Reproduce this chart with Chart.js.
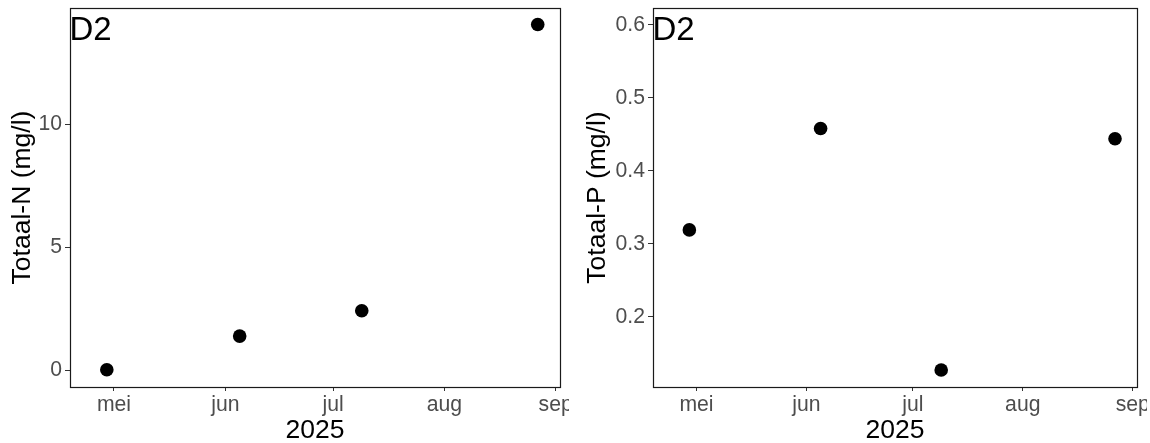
<!DOCTYPE html>
<html>
<head>
<meta charset="utf-8">
<script src="https://cdn.jsdelivr.net/npm/chart.js@4/dist/chart.umd.min.js"></script>
<style>
  body { margin: 0; background: #fff; width: 1150px; height: 443px; overflow: hidden; }
  canvas { position: absolute; top: 0; }
  #chartN { left: 0; }
  #chartP { left: 569px; }
</style>
</head>
<body>
<canvas id="chartN" width="569" height="443"></canvas>
<canvas id="chartP" width="578" height="443"></canvas>
<script>
// meetdata
const sampleDates = ['2025-04-29', '2025-06-05', '2025-07-09', '2025-08-27'];
const totaalN = [0.01, 1.38, 2.41, 14.05];
const totaalP = [0.319, 0.458, 0.127, 0.444];

// as-labels
const monthStarts = ['2025-05-01', '2025-06-01', '2025-07-01', '2025-08-01', '2025-09-01'];
const monthLabels = ['mei', 'jun', 'jul', 'aug', 'sep'];
const nTicks = [0, 5, 10];
const pTicks = [0.2, 0.3, 0.4, 0.5, 0.6];

const FONT = "'Liberation Sans', Arial, sans-serif";

// dagen vanaf 1 mei
function dayNr(s) {
    const base = Date.UTC(2025, 4, 1);
    const p = s.split('-');
    return (Date.UTC(+p[0], +p[1] - 1, +p[2]) - base) / 86400000;
}
const monthDays = monthStarts.map(dayNr);

// kader + D2 label
const boxPlugin = {
    id: 'box',
    afterDraw(chart) {
        const a = chart.chartArea;
        const c = chart.ctx;
        c.save();
        c.strokeStyle = '#1a1a1a';
        c.lineWidth = 1.2;
        c.strokeRect(Math.round(a.left) + 0.5, Math.round(a.top) + 0.5,
            Math.round(a.right - a.left), Math.round(a.bottom - a.top));
        c.fillStyle = '#000';
        c.font = '33px ' + FONT;
        c.textBaseline = 'alphabetic';
        c.textAlign = 'left';
        c.fillText('D2', a.left - 0.5, 40);
        c.restore();
    }
};

function makeChart(id, values, yTicks, yMin, yMax, yTitle, yWidth, titlePad, padRight, fmt) {
    return new Chart(document.querySelector(id), {
        type: 'scatter',
        data: {
            datasets: [{
                data: sampleDates.map((d, i) => ({ x: dayNr(d), y: values[i] })),
                pointRadius: 6.8,
                pointHoverRadius: 6.8,
                backgroundColor: '#000',
                borderWidth: 0
            }]
        },
        options: {
            responsive: false,
            animation: false,
            events: [],
            layout: { autoPadding: false, padding: { top: 8, right: padRight, bottom: 0, left: 0 } },
            plugins: { legend: { display: false }, tooltip: { enabled: false } },
            scales: {
                x: {
                    type: 'linear',
                    min: -12.25,
                    max: 124.2,
                    afterBuildTicks: s => { s.ticks = monthDays.map(v => ({ value: v })); },
                    afterFit: s => { s.height = 56; s.paddingLeft = 0; s.paddingRight = 0; },
                    grid: { drawOnChartArea: false, drawTicks: true, tickLength: 4, color: '#333' },
                    border: { display: false },
                    ticks: {
                        autoSkip: false,
                        maxRotation: 0,
                        padding: 1,
                        color: '#4d4d4d',
                        font: { family: FONT, size: 21.2 },
                        callback: (v, i) => monthLabels[i]
                    },
                    title: {
                        display: true,
                        text: '2025',
                        color: '#000',
                        font: { family: FONT, size: 26.5, lineHeight: 1 },
                        padding: { top: 0, bottom: -1 }
                    }
                },
                y: {
                    min: yMin,
                    max: yMax,
                    afterBuildTicks: s => { s.ticks = yTicks.map(v => ({ value: v })); },
                    afterFit: s => { s.width = yWidth; s.paddingTop = 0; s.paddingBottom = 0; },
                    grid: { drawOnChartArea: false, drawTicks: true, tickLength: 5, color: '#333' },
                    border: { display: false },
                    ticks: {
                        padding: 3,
                        color: '#4d4d4d',
                        font: { family: FONT, size: 21.2 },
                        callback: fmt
                    },
                    title: {
                        display: true,
                        text: yTitle,
                        color: '#000',
                        font: { family: FONT, size: 26.5, lineHeight: 1 },
                        padding: { top: titlePad, bottom: 0 }
                    }
                }
            }
        },
        plugins: [boxPlugin]
    });
}

makeChart('#chartN', totaalN, nTicks, -0.69, 14.72, 'Totaal-N (mg/l)', 70, 9, 9, v => String(v));
makeChart('#chartP', totaalP, pTicks, 0.1036, 0.6233, 'Totaal-P (mg/l)', 84, 15, 10, v => v.toFixed(1));
</script>
</body>
</html>
